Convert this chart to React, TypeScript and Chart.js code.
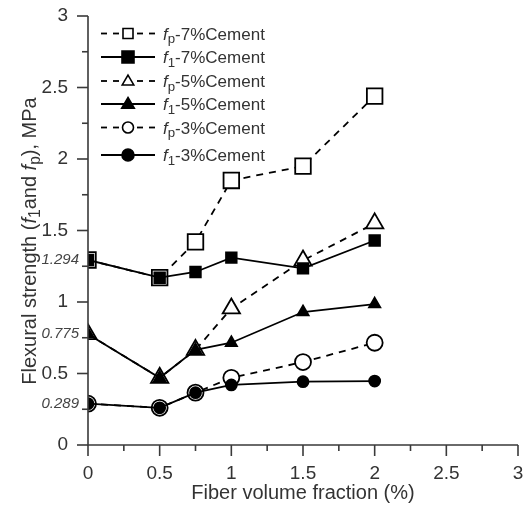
import React, { useEffect, useRef } from 'react';
import { Chart, registerables } from 'chart.js';
Chart.register(...registerables);

const fiberFractions = [0, 0.5, 0.75, 1.0, 1.5, 2.0];
const fp7 = [1.294, 1.17, 1.42, 1.85, 1.95, 2.44];
const f17 = [1.294, 1.17, 1.21, 1.31, 1.235, 1.43];
const fp5 = [0.775, 0.47, 0.665, 0.955, 1.29, 1.55];
const f15 = [0.775, 0.47, 0.665, 0.715, 0.93, 0.985];
const fp3 = [0.289, 0.26, 0.366, 0.47, 0.58, 0.715];
const f13 = [0.289, 0.26, 0.366, 0.42, 0.443, 0.447];

const xTickValues = [0, 0.5, 1, 1.5, 2, 2.5, 3];
const xTickLabels = ['0', '0.5', '1', '1.5', '2', '2.5', '3'];
const yTickValues = [0, 0.5, 1, 1.5, 2, 2.5, 3];
const yTickLabels = ['0', '0.5', '1', '1.5', '2', '2.5', '3'];
const minorTickValues = [0.25, 0.75, 1.25, 1.75, 2.25, 2.75];

const seriesSub = ['p', '1', 'p', '1', 'p', '1'];
const seriesSuffix = ['-7%Cement', '-7%Cement', '-5%Cement', '-5%Cement', '-3%Cement', '-3%Cement'];
const annotValues = [1.294, 0.775, 0.289];
const annotLabels = ['1.294', '0.775', '0.289'];
const xTitle = 'Fiber volume fraction (%)';

const FONT = '"Liberation Sans", Arial, Helvetica, sans-serif';
const TEXT = '#333333';

type Part = { t: string; it?: boolean; sub?: boolean };

function drawRich(ctx: CanvasRenderingContext2D, parts: Part[], x: number, y: number, size: number, align: 'left' | 'center') {
  const fontOf = (p: Part) => `${p.it ? 'italic ' : ''}${p.sub ? size * 0.78 : size}px ${FONT}`;
  let total = 0;
  const widths = parts.map((p) => {
    ctx.font = fontOf(p);
    const w = ctx.measureText(p.t).width;
    total += w;
    return w;
  });
  let cx = align === 'center' ? x - total / 2 : x;
  ctx.textAlign = 'left';
  ctx.textBaseline = 'alphabetic';
  parts.forEach((p, i) => {
    ctx.font = fontOf(p);
    ctx.fillText(p.t, cx, y + (p.sub ? size * 0.22 : 0));
    cx += widths[i];
  });
}

function drawMarker(ctx: CanvasRenderingContext2D, style: string, filled: boolean, x: number, y: number, r: number) {
  ctx.beginPath();
  if (style === 'rect') {
    ctx.rect(x - r, y - r, 2 * r, 2 * r);
  } else if (style === 'triangle') {
    const h = r * 1.8;
    ctx.moveTo(x, y - h * 0.6);
    ctx.lineTo(x + r * 1.05, y + h * 0.4);
    ctx.lineTo(x - r * 1.05, y + h * 0.4);
    ctx.closePath();
  } else {
    ctx.arc(x, y, r, 0, Math.PI * 2);
  }
  ctx.fillStyle = filled ? '#000' : '#fff';
  ctx.fill();
  ctx.lineWidth = 1.6;
  ctx.strokeStyle = '#000';
  ctx.setLineDash([]);
  ctx.stroke();
}

const legendStyles = ['rect', 'rect', 'triangle', 'triangle', 'circle', 'circle'];
const legendFilled = [false, true, false, true, false, true];
const legendR = [5, 6, 5.5, 6, 5.5, 6];
const legendRowsY = [25.5, 49, 73, 96, 119.5, 147];

const decorPlugin = {
  id: 'decor',
  afterDraw(chart: any) {
    const ctx: CanvasRenderingContext2D = chart.ctx;
    const xs = chart.scales.x;
    const ys = chart.scales.y;
    const x0 = xs.getPixelForValue(0);
    const x3 = xs.getPixelForValue(3);
    const y0 = ys.getPixelForValue(0);
    const y3 = ys.getPixelForValue(3);
    ctx.save();
    ctx.strokeStyle = '#3a3a3a';
    ctx.lineWidth = 1.6;
    ctx.setLineDash([]);
    ctx.beginPath();
    ctx.moveTo(x0, y3);
    ctx.lineTo(x0, y0);
    ctx.lineTo(x3, y0);
    ctx.stroke();
    // ticks
    const tick = (v: number, len: number) => {
      const px = xs.getPixelForValue(v);
      ctx.beginPath();
      ctx.moveTo(px, y0);
      ctx.lineTo(px, y0 + len);
      ctx.stroke();
      const py = ys.getPixelForValue(v);
      ctx.beginPath();
      ctx.moveTo(x0, py);
      ctx.lineTo(x0 - len, py);
      ctx.stroke();
    };
    xTickValues.forEach((v) => tick(v, 11));
    minorTickValues.forEach((v) => tick(v, 6));
    // tick labels
    ctx.fillStyle = TEXT;
    ctx.font = `19px ${FONT}`;
    ctx.textAlign = 'center';
    ctx.textBaseline = 'middle';
    xTickValues.forEach((v, i) => ctx.fillText(xTickLabels[i], xs.getPixelForValue(v), y0 + 29));
    ctx.textAlign = 'right';
    yTickValues.forEach((v, i) => ctx.fillText(yTickLabels[i], x0 - 20, ys.getPixelForValue(v)));
    // annotations
    ctx.fillStyle = '#444';
    ctx.font = `italic 15px ${FONT}`;
    ctx.textAlign = 'right';
    ctx.textBaseline = 'middle';
    annotValues.forEach((v, i) => {
      ctx.fillText(annotLabels[i], x0 - 9, ys.getPixelForValue(v));
    });
    // x title
    ctx.fillStyle = TEXT;
    ctx.font = `20px ${FONT}`;
    ctx.textAlign = 'center';
    ctx.textBaseline = 'middle';
    ctx.fillText(xTitle, (x0 + x3) / 2, 485);
    // y title
    ctx.save();
    ctx.translate(21, 233);
    ctx.rotate(-Math.PI / 2);
    drawRich(
      ctx,
      [
        { t: 'Flexural strength (' },
        { t: 'f', it: true },
        { t: '1', sub: true },
        { t: 'and ' },
        { t: 'f', it: true },
        { t: 'p', sub: true },
        { t: '), MPa' },
      ],
      0,
      7,
      20,
      'center'
    );
    ctx.restore();
    // legend
    for (let i = 0; i < 6; i++) {
      const ly = legendRowsY[i];
      const dashed = i % 2 === 0;
      ctx.strokeStyle = '#000';
      ctx.lineWidth = 1.8;
      ctx.setLineDash(dashed ? [6, 6] : []);
      ctx.beginPath();
      ctx.moveTo(93, ly);
      ctx.lineTo(147, ly);
      ctx.stroke();
      ctx.setLineDash([]);
      drawMarker(ctx, legendStyles[i], legendFilled[i], 120, ly, legendR[i]);
      ctx.fillStyle = TEXT;
      drawRich(
        ctx,
        [{ t: 'f', it: true }, { t: seriesSub[i], sub: true }, { t: seriesSuffix[i] }],
        155,
        ly + 6,
        17,
        'left'
      );
    }
    ctx.restore();
  },
};

function mk(data: number[], dashed: boolean, style: string, filled: boolean, r: number, order: number) {
  return {
    data: fiberFractions.map((x, i) => ({ x, y: data[i] })),
    borderColor: '#000',
    borderWidth: 1.8,
    borderDash: dashed ? [7, 6] : [],
    pointStyle: style,
    pointRadius: r,
    pointBorderWidth: 1.8,
    pointBorderColor: '#000',
    pointBackgroundColor: filled ? '#000' : '#fff',
    fill: false,
    tension: 0,
    order,
  };
}

export default function App() {
  const ref = useRef<HTMLCanvasElement>(null);
  useEffect(() => {
    if (!ref.current) return;
    const chart = new Chart(ref.current, {
      type: 'line',
      data: {
        datasets: [
          mk(fp7, true, 'rect', false, 11, 2),
          mk(f17, false, 'rect', true, 7.5, 1),
          mk(fp5, true, 'triangle', false, 10, 2),
          mk(f15, false, 'triangle', true, 6.5, 1),
          mk(fp3, true, 'circle', false, 8, 2),
          mk(f13, false, 'circle', true, 5.5, 1),
        ] as any,
      },
      options: {
        animation: false,
        responsive: true,
        maintainAspectRatio: false,
        layout: { autoPadding: false, padding: { top: 8, right: 5, left: 0, bottom: 0 } },
        plugins: { legend: { display: false }, tooltip: { enabled: false } },
        scales: {
          x: {
            type: 'linear',
            min: 0,
            max: 3,
            grid: { display: false, drawTicks: false },
            border: { display: false },
            ticks: { display: false },
            afterFit: (s: any) => {
              s.height = 58;
            },
          },
          y: {
            type: 'linear',
            min: 0,
            max: 3,
            grid: { display: false, drawTicks: false },
            border: { display: false },
            ticks: { display: false },
            afterFit: (s: any) => {
              s.width = 80;
            },
          },
        },
      },
      plugins: [decorPlugin],
    });
    return () => chart.destroy();
  }, []);
  return (
    <div style={{ width: 515, height: 495, position: 'relative' }}>
      <canvas ref={ref} />
    </div>
  );
}
